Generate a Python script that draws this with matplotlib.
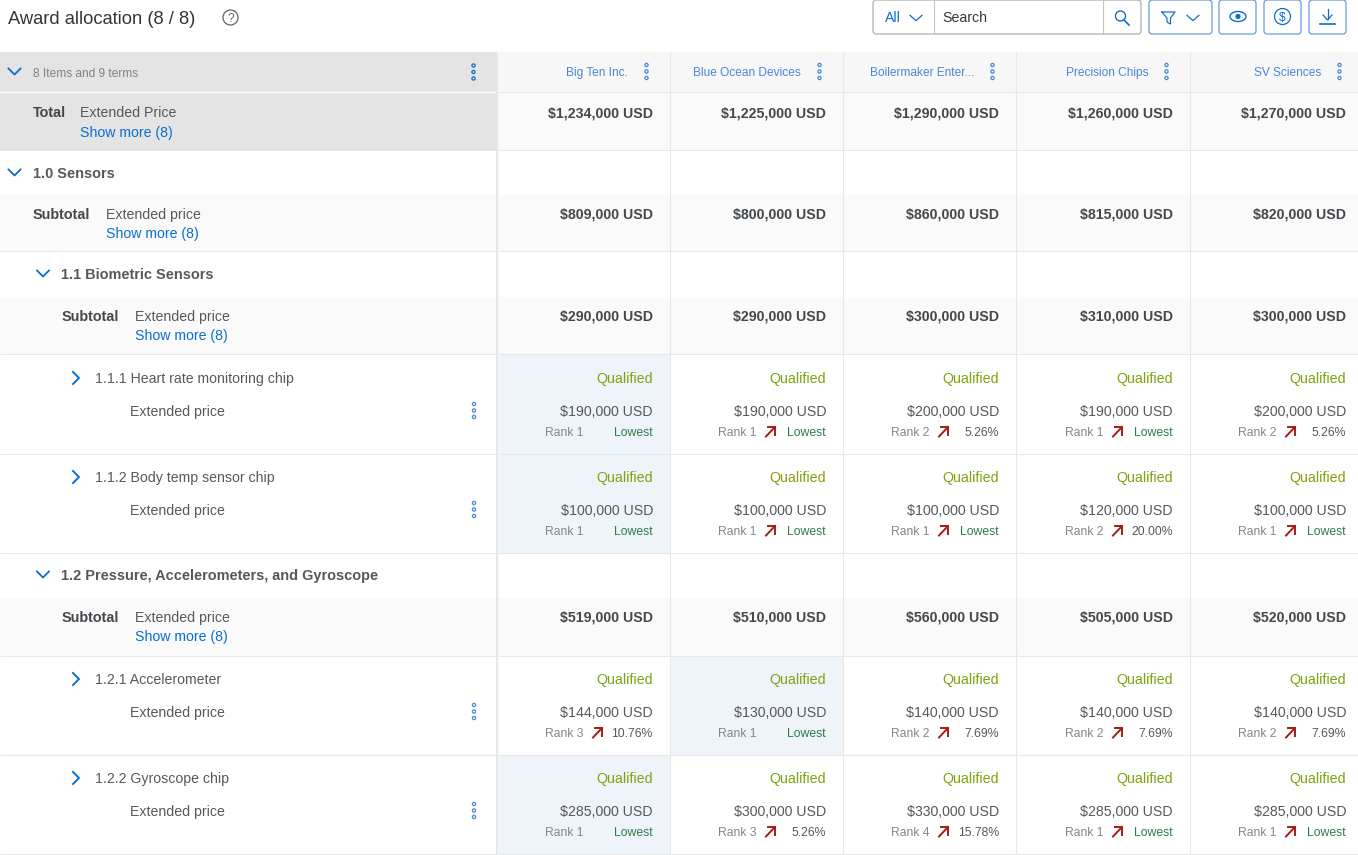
import matplotlib
matplotlib.use("Agg")
import matplotlib.pyplot as plt
from matplotlib.patches import Rectangle, FancyBboxPatch, Circle, Ellipse

plt.rcParams['font.family'] = ['Liberation Sans', 'DejaVu Sans']

suppliers = ["Big Ten Inc.", "Blue Ocean Devices", "Boilermaker Enter...", "Precision Chips", "SV Sciences"]
total_prices = ["$1,234,000 USD", "$1,225,000 USD", "$1,290,000 USD", "$1,260,000 USD", "$1,270,000 USD"]
sensors_sub = ["$809,000 USD", "$800,000 USD", "$860,000 USD", "$815,000 USD", "$820,000 USD"]
biometric_sub = ["$290,000 USD", "$290,000 USD", "$300,000 USD", "$310,000 USD", "$300,000 USD"]
pressure_sub = ["$519,000 USD", "$510,000 USD", "$560,000 USD", "$505,000 USD", "$520,000 USD"]

heart_prices = ["$190,000 USD", "$190,000 USD", "$200,000 USD", "$190,000 USD", "$200,000 USD"]
heart_ranks = [1, 1, 2, 1, 2]
heart_delta = ["Lowest", "Lowest", "5.26%", "Lowest", "5.26%"]
temp_prices = ["$100,000 USD", "$100,000 USD", "$100,000 USD", "$120,000 USD", "$100,000 USD"]
temp_ranks = [1, 1, 1, 2, 1]
temp_delta = ["Lowest", "Lowest", "Lowest", "20.00%", "Lowest"]
accel_prices = ["$144,000 USD", "$130,000 USD", "$140,000 USD", "$140,000 USD", "$140,000 USD"]
accel_ranks = [3, 1, 2, 2, 2]
accel_delta = ["10.76%", "Lowest", "7.69%", "7.69%", "7.69%"]
gyro_prices = ["$285,000 USD", "$300,000 USD", "$330,000 USD", "$285,000 USD", "$285,000 USD"]
gyro_ranks = [1, 3, 4, 1, 1]
gyro_delta = ["Lowest", "5.26%", "15.78%", "Lowest", "Lowest"]

BLUE = "#0a6ed1"
LINKBLUE = "#4a86d8"
DARK = "#32363a"
TXT = "#55595d"
GREY = "#83878b"
LINE = "#e8e8e8"
GREEN = "#2b7d4a"
OLIVE = "#7fa30f"
RED = "#a51c14"

fig = plt.figure(figsize=(13.58, 8.55), dpi=100)
ax = fig.add_axes([0, 0, 1, 1])
ax.set_xlim(0, 1358)
ax.set_ylim(855, 0)
ax.axis("off")

col_left = [497, 670, 843, 1016, 1190]
col_right = [653, 826, 999, 1173, 1346]
col_end = [670, 843, 1016, 1190, 1358]
PANEL = 496


def band(y0, y1, x0=0, x1=1358, color="#ffffff", z=0):
    ax.add_patch(Rectangle((x0, y0), x1 - x0, y1 - y0, fc=color, ec="none", zorder=z))


def hline(y, x0=0, x1=1358, color=LINE, lw=0.75):
    ax.plot([x0, x1], [y - 0.5, y - 0.5], color=color, lw=lw, zorder=2, solid_capstyle="butt")


def txt(x, y, s, size=10.2, color=TXT, ha="left", weight="normal"):
    # y is the middle of the capitals, baseline keeps descenders from moving the text
    ax.text(x, y + size * 0.5, s, fontsize=size, color=color, ha=ha, va="baseline", fontweight=weight, zorder=5)


def chev_down(x, y, w=6, h=4.5, color=BLUE, lw=1.3):
    ax.plot([x - w, x, x + w], [y - h / 1.5, y + h / 1.5, y - h / 1.5], color=color, lw=lw, zorder=5)


def chev_right(x, y, color=BLUE):
    ax.plot([x - 3, x + 3, x - 3], [y - 6, y, y + 6], color=color, lw=1.4, zorder=5)


def dots(x, y, color=LINKBLUE):
    for dy in (-6.5, 0, 6.5):
        ax.add_patch(Circle((x, y + dy), 1.6, fc="none", ec=color, lw=0.9, zorder=5))


def arrow(x, y):
    ax.plot([x - 4.5, x + 4.5], [y + 5, y - 4.5], color=RED, lw=1.4, zorder=5)
    ax.plot([x - 3, x + 4.5, x + 4.5], [y - 4.5, y - 4.5, y + 3], color=RED, lw=1.4, zorder=5)


def button(x0, y0, x1, y1, ec=LINKBLUE):
    ax.add_patch(FancyBboxPatch((x0 + 3, y0 + 3), x1 - x0 - 6, y1 - y0 - 6, boxstyle="round,pad=3",
                                fc="white", ec=ec, lw=0.75, zorder=3))


def subtotal(y0, y1, indent, label, tab, link_x, prices):
    band(y0, y1, color="#fafafa")
    txt(indent, y0 + 18.5, label, weight="bold", color="#45494d", size=10.4)
    txt(link_x, y0 + 18.5, tab)
    txt(link_x, y0 + 38, "Show more (8)", color=BLUE)
    for r, p in zip(col_right, prices):
        txt(r, y0 + 18.5, p, ha="right", weight="bold", color="#45494d", size=10.2)
    hline(y1)


def section(y0, x_chev, x_txt, label):
    chev_down(x_chev, y0 + 21.5)
    txt(x_txt, y0 + 22, label, weight="bold", color="#55595d", size=10.45)


def item(y0, y1, name, prices, ranks, deltas, award):
    # awarded supplier cell gets the blue tint
    band(y0, y1, col_left[award], col_end[award], color="#eff4fa", z=1)
    chev_right(76, y0 + 23)
    txt(95, y0 + 23, name)
    txt(130.5, y0 + 55.5, "Extended price")
    dots(474, y0 + 55.5)
    for i in range(5):
        r = col_right[i]
        txt(r, y0 + 23, "Qualified", ha="right", color=OLIVE, size=10.3)
        txt(r, y0 + 55.5, prices[i], ha="right")
        d = deltas[i]
        c = GREEN if d == "Lowest" else TXT
        txt(r, y0 + 76.5, d, size=8.8, ha="right", color=c)
        txt(r - 108, y0 + 76.5, "Rank %d" % ranks[i], size=8.7, color=GREY)
        if i != award:
            arrow(r - 55.5, y0 + 76.5)
    hline(y1)


# title bar
txt(8, 17.5, "Award allocation (8 / 8)", size=13.2, color=DARK)
ax.add_patch(Circle((230.5, 17.5), 7.5, fc="none", ec="#5f6367", lw=0.9, zorder=5))
txt(230.5, 17.5, "?", size=8.5, ha="center", color="#5f6367")

# search group
button(873, 0, 1141, 34, ec="#9aa0a6")
ax.plot([933.5, 933.5], [0, 34], color="#c0c3c7", lw=0.8, zorder=4)
ax.plot([1103, 1103], [0, 34], color="#c0c3c7", lw=0.8, zorder=4)
txt(885, 17, "All", color=BLUE)
chev_down(916, 18, w=6, h=4, lw=0.9)
txt(942, 17, "Search", color=DARK)
ax.add_patch(Circle((1120.5, 16), 5, fc="none", ec=BLUE, lw=1.0, zorder=5))
ax.plot([1124, 1129], [20, 25], color=BLUE, lw=1.2, zorder=5)

button(1149, 0, 1212, 34)
ax.plot([1162, 1175, 1170.5, 1170.5, 1167, 1167, 1162], [12, 12, 18, 24, 22, 18, 12], color=BLUE, lw=0.85, zorder=5)
chev_down(1193, 18, w=6, h=4, lw=0.9)
button(1219, 0, 1256, 34)
ax.add_patch(Ellipse((1238, 16.5), 16, 10, fc="none", ec=BLUE, lw=1.0, zorder=5))
ax.add_patch(Circle((1238, 16.5), 2.6, fc=BLUE, ec="none", zorder=5))
button(1264, 0, 1301, 34)
ax.add_patch(Circle((1282.5, 16.5), 8, fc="none", ec=BLUE, lw=0.9, zorder=5))
txt(1282.5, 16.5, "$", size=8.5, ha="center", color=BLUE)
button(1309, 0, 1346, 34)
ax.plot([1327.5, 1327.5], [9, 19], color=BLUE, lw=0.9, zorder=5)
ax.plot([1323, 1327.5, 1332], [15, 20, 15], color=BLUE, lw=0.9, zorder=5)
ax.plot([1320, 1335], [24, 24], color=BLUE, lw=1.2, zorder=5)

# header band and total row
band(52, 93, color="#f7f7f7")
band(93, 151, color="#fafafa")
band(52, 151, 0, PANEL, color="#e4e4e4", z=1)
ax.plot([0, PANEL], [92.5, 92.5], color="#ffffff", lw=0.9, zorder=2)
hline(93, PANEL, 1358)
hline(151, PANEL, 1358)
chev_down(14.5, 71.5)
txt(33, 72.5, "8 Items and 9 terms", size=8.6, color="#7f8285")
dots(473.5, 72, color=BLUE)
for name, r in zip(suppliers, col_right):
    txt(r - 25, 71.5, name, size=8.55, ha="right", color=LINKBLUE)
    dots(r - 6.5, 71.5)
txt(33, 112, "Total", color="#45494d", weight="bold", size=10.4)
txt(80, 112, "Extended Price")
txt(80, 132, "Show more (8)", color=BLUE)
for r, p in zip(col_right, total_prices):
    txt(r, 112, p, ha="right", weight="bold", color="#45494d", size=10.2)

# rows
section(151, 14.5, 33, "1.0 Sensors")
subtotal(195, 252, 33, "Subtotal", "Extended price", 106.5, sensors_sub)
section(252, 43, 61, "1.1 Biometric Sensors")
subtotal(297, 355, 61.5, "Subtotal", "Extended price", 135, biometric_sub)
item(355, 454, "1.1.1 Heart rate monitoring chip", heart_prices, heart_ranks, heart_delta, 0)
item(454, 553, "1.1.2 Body temp sensor chip", temp_prices, temp_ranks, temp_delta, 0)
section(553, 43, 61, "1.2 Pressure, Accelerometers, and Gyroscope")
subtotal(598, 656, 61.5, "Subtotal", "Extended price", 135, pressure_sub)
item(656, 755, "1.2.1 Accelerometer", accel_prices, accel_ranks, accel_delta, 1)
item(755, 854, "1.2.2 Gyroscope chip", gyro_prices, gyro_ranks, gyro_delta, 0)

# column lines and frozen panel shadow
for x in col_left[1:]:
    ax.plot([x - 0.5, x - 0.5], [52, 855], color=LINE, lw=0.75, zorder=2)
for k, c in enumerate(["#dfe2e6", "#e9ebee", "#f3f4f6"]):
    ax.add_patch(Rectangle((PANEL + k, 52), 1, 803, fc=c, ec="none", zorder=3, alpha=0.9))

fig.savefig("out.png", dpi=100)
